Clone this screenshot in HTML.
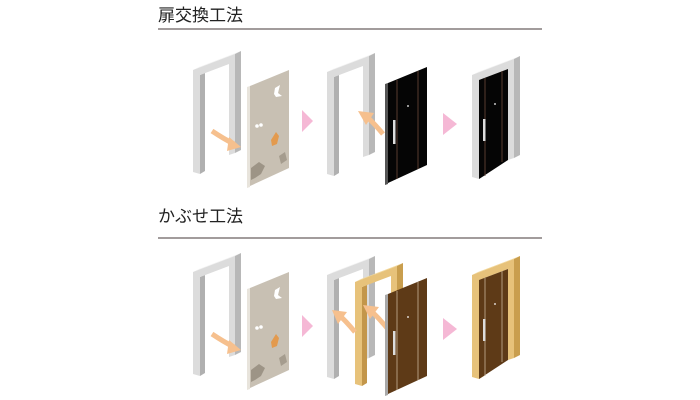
<!DOCTYPE html>
<html><head><meta charset="utf-8"><style>
html,body{margin:0;padding:0;background:#fff;width:700px;height:400px;overflow:hidden}
</style></head><body>
<svg width="700" height="400" viewBox="0 0 700 400" xmlns="http://www.w3.org/2000/svg">
<defs>
<g id="gframe">
  <polygon points="0,20 42,4 48,1 6,17" fill="#f2f2f2"/>
  <polygon points="42,4 48,1 48,100 42,103" fill="#b8b8b8"/>
  <polygon points="7,25 12,23 12,121 7,124" fill="#b0b0b0"/>
  <polygon points="0,20 42,4 42,103 36,105 36,14 7,25 7,124 0,122" fill="#dcdcdc"/>
</g>
<g id="wframe">
  <polygon points="0,20 42,4 48,1 6,17" fill="#f3d99a"/>
  <polygon points="42,4 48,1 48,100 42,103" fill="#c99e4e"/>
  <polygon points="7,25 12,23 12,121 7,124" fill="#c3964a"/>
  <polygon points="0,20 42,4 42,103 36,105 36,14 7,25 7,124 0,122" fill="#e7c27a"/>
</g>
<g id="olddoor">
  <polygon points="0,17 3,16 3,117 0,118" fill="#e8e4dc"/>
  <polygon points="3,16 42,0 42,98 3,116" fill="#c8c0b3"/>
  <polygon points="28,18 33,15 31,23 35,26 29,27 27,24" fill="#fff"/>
  <polygon points="24,70 29,62 32,66 30,74 25,76" fill="#e39a4e"/>
  <polygon points="4,98 12,92 18,96 14,104 8,108 4,110" fill="#9d9486"/>
  <polygon points="32,86 38,82 40,90 34,94" fill="#a59c8e"/>
  <circle cx="10" cy="56" r="1.8" fill="#fff"/><circle cx="14" cy="55" r="1.8" fill="#fff"/>
</g>
<g id="arrowO">
  <path d="M0,0 Q12,8 22,13" stroke="#f6c08e" stroke-width="5" fill="none"/>
  <polygon points="17,6 29,16 15,20" fill="#f6c08e"/>
</g>
</defs>

<text x="158" y="21" font-family="'Liberation Sans','Noto Sans CJK JP',sans-serif" font-size="17" fill="#222">扉交換工法</text>
<line x1="158" y1="29" x2="542" y2="29" stroke="#6a6262" stroke-width="1.2"/>
<text x="158" y="222" font-family="'Liberation Sans','Noto Sans CJK JP',sans-serif" font-size="17" fill="#222">かぶせ工法</text>
<line x1="158" y1="238" x2="542" y2="238" stroke="#6a6262" stroke-width="1.2"/>

<!-- top row -->
<use href="#gframe" x="193" y="50"/>
<use href="#olddoor" x="247" y="70"/>
<use href="#arrowO" x="212" y="131"/>
<polygon points="302,110 313,121 302,132" fill="#f5b8d5"/>
<use href="#gframe" x="327" y="52"/>
<g transform="translate(385,67)">
  <polygon points="0,17 3,16 3,117 0,118" fill="#555"/>
  <polygon points="3,16 42,0 42,98 3,116" fill="#050505"/>
  <line x1="12" y1="13" x2="12" y2="112" stroke="#6b4a3a" stroke-width="0.8"/>
  <line x1="33" y1="4" x2="33" y2="102" stroke="#6b4a3a" stroke-width="0.8"/>
  <rect x="8" y="53" width="2.5" height="24" fill="#ddd"/>
  <circle cx="23" cy="39" r="0.9" fill="#fff"/>
</g>
<path d="M383,134 Q373,122 366,116" stroke="#f6c08e" stroke-width="5" fill="none"/>
<polygon points="358,111 374,113 366,125" fill="#f6c08e"/>
<polygon points="443,113 457,124 443,135" fill="#f5b8d5"/>
<g transform="translate(472,55)">
  <use href="#gframe"/>
  <polygon points="7,25 36,14 36,105 7,124" fill="#050505"/>
  <line x1="13" y1="23" x2="13" y2="121" stroke="#6b4a3a" stroke-width="0.8"/>
  <line x1="30" y1="16" x2="30" y2="107" stroke="#6b4a3a" stroke-width="0.8"/>
  <rect x="11" y="64" width="2.5" height="22" fill="#ddd"/>
  <circle cx="23" cy="49" r="0.9" fill="#fff"/>
</g>

<!-- bottom row -->
<use href="#gframe" x="193" y="252"/>
<use href="#olddoor" x="247" y="272"/>
<use href="#arrowO" x="212" y="334"/>
<polygon points="302,315 313,326 302,337" fill="#f5b8d5"/>
<use href="#gframe" x="327" y="255"/>
<use href="#wframe" x="355" y="262"/>
<path d="M355,332 Q345,320 338,314" stroke="#f6c08e" stroke-width="5" fill="none"/>
<polygon points="332,310 347,312 338,324" fill="#f6c08e"/>
<path d="M387,328 Q377,316 370,310" stroke="#f6c08e" stroke-width="5" fill="none"/>
<polygon points="363,305 379,307 370,319" fill="#f6c08e"/>
<g transform="translate(385,278)">
  <polygon points="0,17 3,16 3,117 0,118" fill="#a8a8a8"/>
  <polygon points="3,16 42,0 42,98 3,116" fill="#5e3a17"/>
  <line x1="12" y1="13" x2="12" y2="112" stroke="#c9b49a" stroke-width="0.8"/>
  <line x1="33" y1="4" x2="33" y2="102" stroke="#c9b49a" stroke-width="0.8"/>
  <rect x="8" y="53" width="2.5" height="24" fill="#ddd"/>
  <circle cx="23" cy="39" r="0.9" fill="#fff"/>
</g>
<polygon points="443,318 457,329 443,340" fill="#f5b8d5"/>
<g transform="translate(472,255)">
  <use href="#wframe"/>
  <polygon points="7,25 36,14 36,105 7,124" fill="#5e3a17"/>
  <line x1="13" y1="23" x2="13" y2="121" stroke="#c9b49a" stroke-width="0.8"/>
  <line x1="30" y1="16" x2="30" y2="107" stroke="#c9b49a" stroke-width="0.8"/>
  <rect x="11" y="64" width="2.5" height="22" fill="#ddd"/>
  <circle cx="23" cy="49" r="0.9" fill="#fff"/>
</g>
</svg>
</body></html>
